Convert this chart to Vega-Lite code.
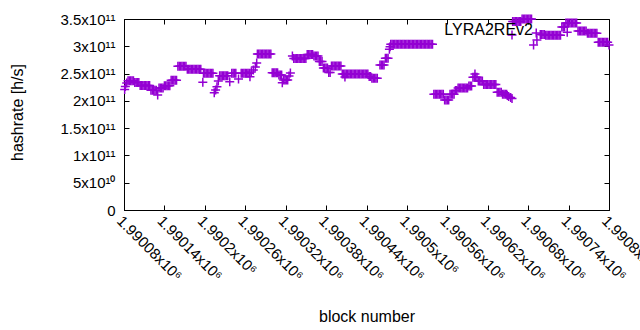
{
"$schema": "https://vega.github.io/schema/vega-lite/v6.json",
"width": 485, "height": 191,
"autosize": {"type": "none"},
"padding": {"left": 124, "top": 19, "right": 31, "bottom": 120},
"background": "white",
"config": {
 "font": "Liberation Sans",
 "view": {"stroke": "black", "strokeWidth": 1},
 "axis": {"grid": false, "domainColor": "black", "domainWidth": 1, "tickColor": "black", "tickWidth": 1, "tickSize": -5, "labelColor": "black", "labelFont": "Liberation Sans", "labelFontSize": 15, "titleFont": "Liberation Sans", "titleFontSize": 16, "titleFontWeight": "normal", "titleColor": "black", "labelOverlap": false, "labelFlush": false}
},
"title": {"text": "LYRA2REv2", "orient": "top", "anchor": "end", "frame": "group", "offset": -18, "dx": -76, "dy": 21, "baseline": "alphabetic", "font": "Liberation Sans", "fontSize": 16, "fontWeight": "normal", "color": "black"},
"data": {"values": [
{"block":1990081,"hashrate":2.208e11},{"block":1990082,"hashrate":2.263e11},{"block":1990084,"hashrate":2.327e11},
{"block":1990086,"hashrate":2.369e11},{"block":1990088,"hashrate":2.369e11},{"block":1990090,"hashrate":2.369e11},{"block":1990092,"hashrate":2.369e11},{"block":1990094,"hashrate":2.369e11},
{"block":1990096,"hashrate":2.336e11},{"block":1990098,"hashrate":2.336e11},{"block":1990100,"hashrate":2.336e11},{"block":1990102,"hashrate":2.336e11},
{"block":1990104,"hashrate":2.281e11},{"block":1990106,"hashrate":2.281e11},{"block":1990108,"hashrate":2.281e11},{"block":1990110,"hashrate":2.281e11},{"block":1990112,"hashrate":2.281e11},{"block":1990114,"hashrate":2.281e11},{"block":1990116,"hashrate":2.281e11},{"block":1990118,"hashrate":2.281e11},
{"block":1990120,"hashrate":2.193e11},{"block":1990122,"hashrate":2.193e11},{"block":1990124,"hashrate":2.193e11},{"block":1990126,"hashrate":2.193e11},{"block":1990128,"hashrate":2.193e11},{"block":1990130,"hashrate":2.107e11},
{"block":1990132,"hashrate":2.236e11},{"block":1990134,"hashrate":2.236e11},{"block":1990136,"hashrate":2.236e11},{"block":1990138,"hashrate":2.236e11},
{"block":1990140,"hashrate":2.278e11},{"block":1990142,"hashrate":2.278e11},{"block":1990144,"hashrate":2.278e11},{"block":1990146,"hashrate":2.278e11},{"block":1990148,"hashrate":2.278e11},
{"block":1990150,"hashrate":2.377e11},{"block":1990152,"hashrate":2.377e11},{"block":1990154,"hashrate":2.377e11},{"block":1990156,"hashrate":2.377e11},{"block":1990158,"hashrate":2.377e11},
{"block":1990160,"hashrate":2.633e11},{"block":1990162,"hashrate":2.633e11},{"block":1990164,"hashrate":2.633e11},{"block":1990166,"hashrate":2.633e11},{"block":1990168,"hashrate":2.633e11},{"block":1990170,"hashrate":2.633e11},{"block":1990172,"hashrate":2.633e11},
{"block":1990174,"hashrate":2.578e11},{"block":1990176,"hashrate":2.578e11},{"block":1990178,"hashrate":2.578e11},{"block":1990180,"hashrate":2.578e11},{"block":1990182,"hashrate":2.578e11},{"block":1990184,"hashrate":2.578e11},{"block":1990186,"hashrate":2.578e11},{"block":1990188,"hashrate":2.578e11},{"block":1990190,"hashrate":2.578e11},{"block":1990192,"hashrate":2.578e11},{"block":1990194,"hashrate":2.578e11},
{"block":1990197,"hashrate":2.340e11},
{"block":1990198,"hashrate":2.505e11},{"block":1990200,"hashrate":2.505e11},{"block":1990202,"hashrate":2.505e11},{"block":1990204,"hashrate":2.505e11},{"block":1990206,"hashrate":2.505e11},{"block":1990208,"hashrate":2.505e11},{"block":1990210,"hashrate":2.505e11},{"block":1990212,"hashrate":2.505e11},
{"block":1990214,"hashrate":2.150e11},{"block":1990216,"hashrate":2.199e11},{"block":1990218,"hashrate":2.259e11},{"block":1990220,"hashrate":2.364e11},
{"block":1990222,"hashrate":2.461e11},{"block":1990224,"hashrate":2.461e11},{"block":1990226,"hashrate":2.461e11},{"block":1990228,"hashrate":2.461e11},{"block":1990230,"hashrate":2.461e11},{"block":1990232,"hashrate":2.461e11},{"block":1990234,"hashrate":2.461e11},{"block":1990237,"hashrate":2.351e11},
{"block":1990240,"hashrate":2.505e11},{"block":1990242,"hashrate":2.505e11},{"block":1990244,"hashrate":2.505e11},{"block":1990246,"hashrate":2.505e11},
{"block":1990250,"hashrate":2.401e11},
{"block":1990254,"hashrate":2.505e11},{"block":1990256,"hashrate":2.505e11},{"block":1990258,"hashrate":2.505e11},{"block":1990260,"hashrate":2.505e11},{"block":1990262,"hashrate":2.505e11},{"block":1990264,"hashrate":2.505e11},{"block":1990266,"hashrate":2.505e11},{"block":1990267,"hashrate":2.443e11},
{"block":1990269,"hashrate":2.529e11},{"block":1990272,"hashrate":2.566e11},{"block":1990275,"hashrate":2.620e11},{"block":1990277,"hashrate":2.694e11},
{"block":1990278,"hashrate":2.859e11},{"block":1990280,"hashrate":2.859e11},{"block":1990282,"hashrate":2.859e11},{"block":1990284,"hashrate":2.859e11},{"block":1990286,"hashrate":2.859e11},{"block":1990288,"hashrate":2.859e11},{"block":1990290,"hashrate":2.859e11},{"block":1990292,"hashrate":2.859e11},{"block":1990294,"hashrate":2.859e11},{"block":1990296,"hashrate":2.859e11},{"block":1990298,"hashrate":2.859e11},
{"block":1990300,"hashrate":2.516e11},{"block":1990302,"hashrate":2.516e11},{"block":1990304,"hashrate":2.516e11},{"block":1990306,"hashrate":2.516e11},{"block":1990308,"hashrate":2.516e11},
{"block":1990310,"hashrate":2.474e11},{"block":1990312,"hashrate":2.474e11},{"block":1990314,"hashrate":2.474e11},
{"block":1990315,"hashrate":2.333e11},{"block":1990317,"hashrate":2.382e11},{"block":1990319,"hashrate":2.382e11},{"block":1990321,"hashrate":2.382e11},{"block":1990323,"hashrate":2.382e11},
{"block":1990325,"hashrate":2.456e11},{"block":1990327,"hashrate":2.511e11},{"block":1990330,"hashrate":2.822e11},
{"block":1990332,"hashrate":2.776e11},{"block":1990334,"hashrate":2.776e11},{"block":1990336,"hashrate":2.776e11},{"block":1990338,"hashrate":2.776e11},{"block":1990340,"hashrate":2.776e11},{"block":1990342,"hashrate":2.776e11},{"block":1990344,"hashrate":2.776e11},{"block":1990346,"hashrate":2.776e11},{"block":1990348,"hashrate":2.776e11},{"block":1990350,"hashrate":2.776e11},
{"block":1990352,"hashrate":2.850e11},{"block":1990354,"hashrate":2.850e11},{"block":1990356,"hashrate":2.850e11},{"block":1990358,"hashrate":2.850e11},{"block":1990360,"hashrate":2.850e11},
{"block":1990362,"hashrate":2.822e11},{"block":1990364,"hashrate":2.822e11},{"block":1990366,"hashrate":2.822e11},{"block":1990368,"hashrate":2.822e11},
{"block":1990370,"hashrate":2.721e11},{"block":1990372,"hashrate":2.721e11},{"block":1990374,"hashrate":2.721e11},
{"block":1990376,"hashrate":2.602e11},{"block":1990378,"hashrate":2.602e11},{"block":1990380,"hashrate":2.602e11},{"block":1990382,"hashrate":2.602e11},
{"block":1990384,"hashrate":2.520e11},{"block":1990386,"hashrate":2.520e11},
{"block":1990388,"hashrate":2.639e11},{"block":1990390,"hashrate":2.639e11},{"block":1990392,"hashrate":2.639e11},{"block":1990394,"hashrate":2.639e11},{"block":1990396,"hashrate":2.639e11},{"block":1990398,"hashrate":2.639e11},{"block":1990400,"hashrate":2.639e11},{"block":1990402,"hashrate":2.639e11},
{"block":1990404,"hashrate":2.492e11},{"block":1990406,"hashrate":2.492e11},{"block":1990408,"hashrate":2.492e11},{"block":1990410,"hashrate":2.492e11},{"block":1990412,"hashrate":2.492e11},{"block":1990414,"hashrate":2.492e11},{"block":1990416,"hashrate":2.492e11},{"block":1990418,"hashrate":2.492e11},{"block":1990420,"hashrate":2.492e11},{"block":1990422,"hashrate":2.492e11},{"block":1990424,"hashrate":2.492e11},{"block":1990426,"hashrate":2.492e11},{"block":1990428,"hashrate":2.492e11},{"block":1990430,"hashrate":2.492e11},{"block":1990432,"hashrate":2.492e11},{"block":1990434,"hashrate":2.492e11},{"block":1990436,"hashrate":2.492e11},{"block":1990438,"hashrate":2.492e11},{"block":1990440,"hashrate":2.492e11},{"block":1990442,"hashrate":2.492e11},{"block":1990408,"hashrate":2.437e11},
{"block":1990444,"hashrate":2.446e11},{"block":1990446,"hashrate":2.446e11},
{"block":1990448,"hashrate":2.413e11},{"block":1990450,"hashrate":2.413e11},{"block":1990452,"hashrate":2.413e11},{"block":1990454,"hashrate":2.413e11},{"block":1990456,"hashrate":2.413e11},
{"block":1990460,"hashrate":2.657e11},{"block":1990462,"hashrate":2.657e11},{"block":1990464,"hashrate":2.657e11},{"block":1990466,"hashrate":2.657e11},
{"block":1990468,"hashrate":2.780e11},{"block":1990470,"hashrate":2.780e11},{"block":1990472,"hashrate":2.780e11},
{"block":1990474,"hashrate":2.945e11},{"block":1990475,"hashrate":2.993e11},
{"block":1990476,"hashrate":3.036e11},{"block":1990478,"hashrate":3.036e11},{"block":1990480,"hashrate":3.036e11},{"block":1990482,"hashrate":3.036e11},{"block":1990484,"hashrate":3.036e11},{"block":1990486,"hashrate":3.036e11},{"block":1990488,"hashrate":3.036e11},{"block":1990490,"hashrate":3.036e11},{"block":1990492,"hashrate":3.036e11},{"block":1990494,"hashrate":3.036e11},{"block":1990496,"hashrate":3.036e11},{"block":1990498,"hashrate":3.036e11},{"block":1990500,"hashrate":3.036e11},{"block":1990502,"hashrate":3.036e11},{"block":1990504,"hashrate":3.036e11},{"block":1990506,"hashrate":3.036e11},{"block":1990508,"hashrate":3.036e11},{"block":1990510,"hashrate":3.036e11},{"block":1990512,"hashrate":3.036e11},{"block":1990514,"hashrate":3.036e11},{"block":1990516,"hashrate":3.036e11},{"block":1990518,"hashrate":3.036e11},{"block":1990520,"hashrate":3.036e11},{"block":1990522,"hashrate":3.036e11},{"block":1990524,"hashrate":3.036e11},{"block":1990526,"hashrate":3.036e11},{"block":1990528,"hashrate":3.036e11},{"block":1990530,"hashrate":3.036e11},{"block":1990532,"hashrate":3.036e11},{"block":1990534,"hashrate":3.036e11},{"block":1990536,"hashrate":3.036e11},{"block":1990538,"hashrate":3.036e11},
{"block":1990540,"hashrate":2.122e11},{"block":1990542,"hashrate":2.122e11},{"block":1990544,"hashrate":2.122e11},{"block":1990546,"hashrate":2.122e11},{"block":1990548,"hashrate":2.122e11},{"block":1990550,"hashrate":2.122e11},{"block":1990552,"hashrate":2.122e11},{"block":1990554,"hashrate":2.122e11},
{"block":1990556,"hashrate":2.016e11},{"block":1990558,"hashrate":2.016e11},{"block":1990560,"hashrate":2.016e11},{"block":1990562,"hashrate":2.016e11},
{"block":1990564,"hashrate":2.122e11},{"block":1990566,"hashrate":2.122e11},{"block":1990568,"hashrate":2.122e11},{"block":1990570,"hashrate":2.122e11},
{"block":1990572,"hashrate":2.190e11},{"block":1990574,"hashrate":2.190e11},
{"block":1990576,"hashrate":2.236e11},{"block":1990578,"hashrate":2.236e11},{"block":1990580,"hashrate":2.236e11},{"block":1990582,"hashrate":2.236e11},{"block":1990584,"hashrate":2.236e11},{"block":1990586,"hashrate":2.236e11},{"block":1990588,"hashrate":2.236e11},{"block":1990590,"hashrate":2.236e11},
{"block":1990592,"hashrate":2.272e11},{"block":1990594,"hashrate":2.272e11},{"block":1990596,"hashrate":2.272e11},
{"block":1990598,"hashrate":2.432e11},{"block":1990600,"hashrate":2.432e11},{"block":1990602,"hashrate":2.432e11},{"block":1990604,"hashrate":2.432e11},{"block":1990601,"hashrate":2.492e11},
{"block":1990606,"hashrate":2.364e11},{"block":1990608,"hashrate":2.364e11},{"block":1990610,"hashrate":2.364e11},{"block":1990612,"hashrate":2.364e11},
{"block":1990614,"hashrate":2.300e11},{"block":1990616,"hashrate":2.300e11},{"block":1990618,"hashrate":2.300e11},{"block":1990620,"hashrate":2.300e11},{"block":1990622,"hashrate":2.300e11},{"block":1990624,"hashrate":2.300e11},{"block":1990626,"hashrate":2.300e11},{"block":1990628,"hashrate":2.300e11},{"block":1990630,"hashrate":2.300e11},{"block":1990632,"hashrate":2.300e11},
{"block":1990634,"hashrate":2.157e11},{"block":1990636,"hashrate":2.157e11},{"block":1990638,"hashrate":2.157e11},{"block":1990640,"hashrate":2.157e11},
{"block":1990642,"hashrate":2.122e11},{"block":1990644,"hashrate":2.122e11},{"block":1990646,"hashrate":2.122e11},{"block":1990648,"hashrate":2.122e11},
{"block":1990649,"hashrate":2.098e11},{"block":1990651,"hashrate":2.080e11},{"block":1990654,"hashrate":2.062e11},{"block":1990656,"hashrate":2.043e11},
{"block":1990656,"hashrate":3.207e11},
{"block":1990657,"hashrate":3.454e11},{"block":1990659,"hashrate":3.454e11},{"block":1990661,"hashrate":3.454e11},{"block":1990663,"hashrate":3.454e11},{"block":1990665,"hashrate":3.454e11},{"block":1990667,"hashrate":3.454e11},{"block":1990669,"hashrate":3.454e11},
{"block":1990671,"hashrate":3.500e11},{"block":1990673,"hashrate":3.500e11},{"block":1990675,"hashrate":3.500e11},{"block":1990677,"hashrate":3.500e11},{"block":1990679,"hashrate":3.500e11},{"block":1990681,"hashrate":3.500e11},{"block":1990683,"hashrate":3.500e11},{"block":1990685,"hashrate":3.500e11},
{"block":1990688,"hashrate":3.024e11},{"block":1990692,"hashrate":3.244e11},{"block":1990693,"hashrate":3.115e11},
{"block":1990698,"hashrate":3.216e11},{"block":1990700,"hashrate":3.216e11},{"block":1990702,"hashrate":3.216e11},{"block":1990704,"hashrate":3.216e11},
{"block":1990706,"hashrate":3.201e11},{"block":1990708,"hashrate":3.201e11},{"block":1990710,"hashrate":3.201e11},{"block":1990712,"hashrate":3.201e11},{"block":1990714,"hashrate":3.201e11},{"block":1990716,"hashrate":3.201e11},{"block":1990718,"hashrate":3.201e11},{"block":1990720,"hashrate":3.201e11},{"block":1990722,"hashrate":3.201e11},{"block":1990724,"hashrate":3.201e11},{"block":1990726,"hashrate":3.201e11},{"block":1990728,"hashrate":3.201e11},
{"block":1990730,"hashrate":3.353e11},{"block":1990732,"hashrate":3.353e11},{"block":1990734,"hashrate":3.353e11},
{"block":1990736,"hashrate":3.427e11},{"block":1990738,"hashrate":3.427e11},{"block":1990740,"hashrate":3.427e11},{"block":1990742,"hashrate":3.427e11},{"block":1990744,"hashrate":3.427e11},{"block":1990746,"hashrate":3.427e11},{"block":1990748,"hashrate":3.427e11},{"block":1990750,"hashrate":3.427e11},{"block":1990752,"hashrate":3.427e11},{"block":1990738,"hashrate":3.256e11},
{"block":1990754,"hashrate":3.280e11},{"block":1990756,"hashrate":3.280e11},{"block":1990758,"hashrate":3.280e11},{"block":1990760,"hashrate":3.280e11},{"block":1990762,"hashrate":3.280e11},{"block":1990764,"hashrate":3.280e11},{"block":1990766,"hashrate":3.280e11},
{"block":1990768,"hashrate":3.238e11},{"block":1990770,"hashrate":3.238e11},{"block":1990772,"hashrate":3.238e11},{"block":1990774,"hashrate":3.238e11},{"block":1990776,"hashrate":3.238e11},{"block":1990778,"hashrate":3.238e11},{"block":1990780,"hashrate":3.238e11},{"block":1990782,"hashrate":3.238e11},
{"block":1990784,"hashrate":3.073e11},{"block":1990786,"hashrate":3.073e11},{"block":1990788,"hashrate":3.073e11},{"block":1990790,"hashrate":3.073e11},{"block":1990792,"hashrate":3.073e11},{"block":1990794,"hashrate":3.073e11},{"block":1990796,"hashrate":3.073e11},{"block":1990798,"hashrate":3.073e11},
{"block":1990800,"hashrate":3.024e11}
]},
"layer": [
 {"mark": {"type": "point", "shape": "M-1,0H1M0,-1V1", "size": 81, "strokeWidth": 1.5, "filled": false, "color": "#9400d3", "opacity": 1, "clip": false},
  "encoding": {
   "x": {"field": "block", "type": "quantitative", "scale": {"domain": [1990080, 1990800], "nice": false, "zero": false},
    "axis": {"orient": "bottom", "title": "block number", "values": [1990080,1990140,1990200,1990260,1990320,1990380,1990440,1990500,1990560,1990620,1990680,1990740,1990800], "labelExpr": "format(datum.value/1e6, '.5~f') + 'x10\u2076'", "labelAngle": 45, "labelAlign": "left", "labelBaseline": "top", "labelPadding": 8, "titleY": 111, "titleBaseline": "alphabetic"}},
   "y": {"field": "hashrate", "type": "quantitative", "scale": {"domain": [0, 3.5e11], "nice": false, "zero": true},
    "axis": {"orient": "left", "title": "hashrate [h/s]", "values": [0, 5e10, 1e11, 1.5e11, 2e11, 2.5e11, 3e11, 3.5e11], "labelExpr": "datum.value == 0 ? '0' : (datum.value < 1e11 ? format(datum.value/1e10, '~g') + 'x10\u00b9\u2070' : format(datum.value/1e11, '~g') + 'x10\u00b9\u00b9')", "labelPadding": 14, "titleX": -107, "titleY": 93, "titleAngle": -90, "titleAlign": "center", "titleBaseline": "middle"}}
  }},
 {"mark": {"type": "point", "opacity": 0},
  "encoding": {
   "x": {"field": "block", "type": "quantitative", "axis": {"orient": "top", "title": null, "labels": false, "domain": false, "values": [1990080,1990140,1990200,1990260,1990320,1990380,1990440,1990500,1990560,1990620,1990680,1990740,1990800]}},
   "y": {"field": "hashrate", "type": "quantitative", "axis": {"orient": "right", "title": null, "labels": false, "domain": false, "values": [0, 5e10, 1e11, 1.5e11, 2e11, 2.5e11, 3e11, 3.5e11]}}
  }}
],
"resolve": {"axis": {"x": "independent", "y": "independent"}}
}
